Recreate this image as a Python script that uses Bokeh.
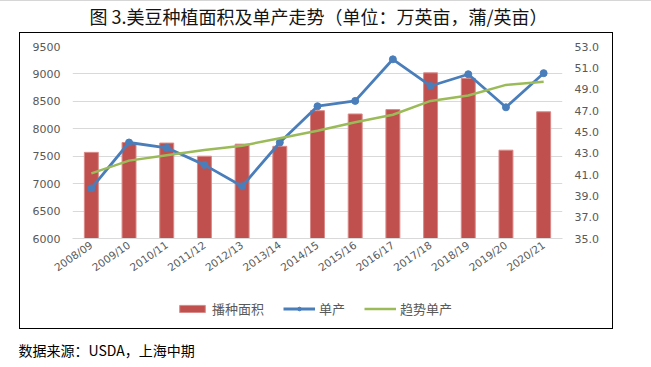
from bokeh.plotting import figure
from bokeh.layouts import column, row
from bokeh.models import (Range1d, LinearAxis, FixedTicker, NumeralTickFormatter, Label,
                          Legend, LegendItem, ColumnDataSource, Spacer)
from bokeh.embed import file_html
from bokeh.resources import INLINE

seasons = ["2008/09", "2009/10", "2010/11", "2011/12", "2012/13", "2013/14", "2014/15",
           "2015/16", "2016/17", "2017/18", "2018/19", "2019/20", "2020/21"]
area = [7570, 7750, 7740, 7500, 7720, 7680, 8330, 8270, 8350, 9020, 8920, 7610, 8310]
yield_actual = [39.7, 44.0, 43.5, 41.9, 39.9, 44.0, 47.4, 47.9, 51.8, 49.3, 50.4, 47.3, 50.5]
yield_trend = [41.1, 42.3, 42.8, 43.3, 43.7, 44.4, 45.1, 45.9, 46.6, 47.9, 48.4, 49.4, 49.7]
left_ticks = [6000, 6500, 7000, 7500, 8000, 8500, 9000, 9500]
right_ticks = [35, 37, 39, 41, 43, 45, 47, 49, 51, 53]

title_text = "图 3.美豆种植面积及单产走势（单位：万英亩，蒲/英亩）"
source_text = "数据来源：USDA，上海中期"
names = ["播种面积", "单产", "趋势单产"]

BAR = dict(fill_color="#c0504d", line_color="#d98a88", line_width=1)
BLUE = "#4a7ebb"
GREEN = "#9bbb59"
EDGE = {"background-color": "black"}
TOPLINE = {"background-color": "#d6d6d6"}


def plain_fig(w, h):
    f = figure(width=w, height=h, output_backend="svg", toolbar_location=None,
               x_range=Range1d(0, 1), y_range=Range1d(0, 1),
               x_axis_location=None, y_axis_location=None, min_border=0)
    f.outline_line_color = None
    f.grid.visible = False
    f.border_fill_color = "white"
    f.background_fill_color = "white"
    return f


# thin grey rule at the very top, then the title strip (page y 1..31)
top_rule = Spacer(width=651, height=1, styles=TOPLINE)
tfig = plain_fig(651, 31)
tfig.add_layout(Label(x=318, y=17, x_units="screen", y_units="screen", text=title_text,
                      text_align="center", text_baseline="middle",
                      text_font="Noto Sans CJK SC", text_font_size="18px", text_color="#141414"))

# main chart (page x 20..611, y 33..290)
src = ColumnDataSource(dict(x=seasons, area=area, y=yield_actual, t=yield_trend))

p = figure(x_range=seasons, y_range=Range1d(6000, 9500), width=592, height=258,
           output_backend="svg", toolbar_location=None,
           min_border_left=52, min_border_right=50, min_border_top=13, min_border_bottom=53)
p.outline_line_color = None
p.border_fill_color = "white"
p.background_fill_color = "white"
p.x_range.range_padding = 0
p.extra_y_ranges = {"yld": Range1d(35, 53)}

p.vbar(x="x", top="area", bottom=6000, width=0.37, source=src, **BAR)
p.line(x="x", y="y", source=src, y_range_name="yld", line_color=BLUE, line_width=2.8)
p.scatter(x="x", y="y", source=src, y_range_name="yld", size=7,
          fill_color=BLUE, line_color=BLUE)
p.line(x="x", y="t", source=src, y_range_name="yld", line_color=GREEN, line_width=2.5)

p.yaxis.ticker = FixedTicker(ticks=left_ticks)
p.yaxis.formatter = NumeralTickFormatter(format="0")
ra = LinearAxis(y_range_name="yld", ticker=FixedTicker(ticks=right_ticks),
                formatter=NumeralTickFormatter(format="0.0"))
p.add_layout(ra, "right")

for ax in [p.yaxis[0], ra]:
    ax.axis_line_color = None
    ax.major_tick_line_color = None
    ax.minor_tick_line_color = None
    ax.major_tick_out = 0
    ax.major_tick_in = 0
    ax.minor_tick_out = 0
    ax.major_label_text_font = "DejaVu Sans"
    ax.major_label_text_font_size = "11px"
    ax.major_label_text_color = "#595959"
    ax.major_label_standoff = 12

xa = p.xaxis[0]
xa.axis_line_color = "#d9d9d9"
xa.major_tick_line_color = None
xa.minor_tick_line_color = None
xa.major_tick_out = 0
xa.major_tick_in = 0
xa.minor_tick_out = 0
xa.major_label_orientation = 0.61
xa.major_label_text_font = "DejaVu Sans"
xa.major_label_text_font_size = "10.5px"
xa.major_label_text_color = "#595959"
xa.major_label_standoff = 5

p.xgrid.visible = False
p.ygrid.ticker = FixedTicker(ticks=left_ticks)
p.ygrid.grid_line_color = "#d9d9d9"
p.ygrid.grid_line_width = 1

# legend strip (page y 291..327); its frame lines up with the chart's frame.
# Proxy renderers use the same data on a numeric x scale, so they stay invisible.
lfig = plain_fig(592, 37)
lsrc = ColumnDataSource(dict(x=seasons, area=area, y=yield_actual, t=yield_trend))
lb = lfig.vbar(x="x", top="area", bottom=6000, width=0.37, source=lsrc, **BAR)
ll = lfig.line(x="x", y="y", source=lsrc, line_color=BLUE, line_width=2.8)
lp = lfig.scatter(x="x", y="y", source=lsrc, size=7, fill_color=BLUE, line_color=BLUE)
lg = lfig.line(x="x", y="t", source=lsrc, line_color=GREEN, line_width=2.5)

legend = Legend(items=[LegendItem(label=names[0], renderers=[lb]),
                       LegendItem(label=names[1], renderers=[ll, lp]),
                       LegendItem(label=names[2], renderers=[lg])],
                location=(104, 10), orientation="horizontal")
legend.padding = 0
legend.margin = 0
legend.spacing = 19
legend.glyph_width = 32
legend.glyph_height = 9
legend.label_standoff = 4
legend.label_text_font = "Noto Sans CJK SC"
legend.label_text_font_size = "13px"
legend.label_text_color = "#595959"
legend.background_fill_alpha = 0
legend.border_line_alpha = 0
lfig.add_layout(legend)

inner = column(p, lfig, spacing=0)

# chart box: 1px black edges made of spacers (x 19..612, y 32..328)
top_edge = row(Spacer(width=19, height=1), Spacer(width=594, height=1, styles=EDGE),
               Spacer(width=38, height=1), spacing=0)
bottom_edge = row(Spacer(width=19, height=1), Spacer(width=594, height=1, styles=EDGE),
                  Spacer(width=38, height=1), spacing=0)
box_row = row(Spacer(width=19, height=295), Spacer(width=1, height=295, styles=EDGE),
              inner, Spacer(width=1, height=295, styles=EDGE),
              Spacer(width=38, height=295), spacing=0)

# source strip (page y 329..366)
sfig = plain_fig(651, 38)
sfig.add_layout(Label(x=18, y=18, x_units="screen", y_units="screen", text=source_text,
                      text_align="left", text_baseline="middle",
                      text_font="Noto Sans CJK SC", text_font_size="14px", text_color="#000000"))

layout = column(top_rule, tfig, top_edge, box_row, bottom_edge, sfig, spacing=0)

open("out.html", "w").write(file_html(layout, INLINE))
